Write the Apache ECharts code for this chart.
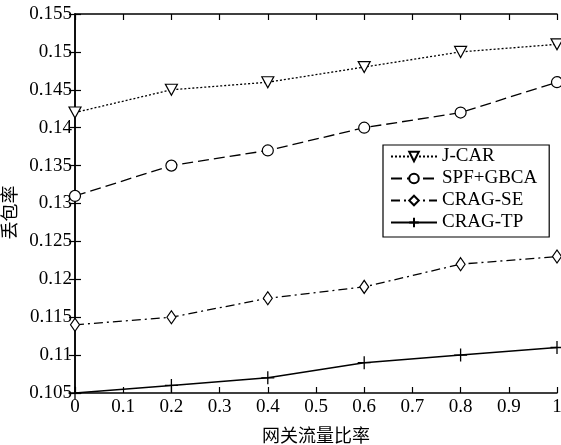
<!DOCTYPE html>
<html><head><meta charset="utf-8">
<script src="https://cdn.jsdelivr.net/npm/echarts@6/dist/echarts.min.js"></script>
<style>html,body{margin:0;padding:0;background:#fff}#c{width:561px;height:445px}</style>
</head><body><div id="c"></div>
<script>
const categories = [0, 0.2, 0.4, 0.6, 0.8, 1];
const jcar = [0.142, 0.145, 0.146, 0.148, 0.150, 0.151];
const spf = [0.131, 0.135, 0.137, 0.140, 0.142, 0.146];
const crageSE = [0.114, 0.115, 0.1175, 0.119, 0.122, 0.123];
const crageTP = [0.105, 0.106, 0.107, 0.109, 0.110, 0.111];
const names = ['J-CAR', 'SPF+GBCA', 'CRAG-SE', 'CRAG-TP'];

const serif = 'Liberation Serif';
const pair = arr => categories.map((x, i) => [x, arr[i]]);
const chart = echarts.init(document.getElementById('c'));
const axisCommon = {
  axisLine: {show: true, lineStyle: {color: '#000', width: 1.5}},
  axisTick: {show: true, inside: true, length: 6, lineStyle: {color: '#000', width: 1.2}},
  splitLine: {show: false}
};
const plus = 'path://M0,-6 L0,6 M-6,0 L6,0';
chart.setOption({
  animation: false,
  grid: {left: 75, right: 4, top: 14, bottom: 52, outerBoundsMode: 'none', containLabel: false},
  legend: {
    orient: 'vertical', left: 383, top: 145,
    padding: [2, 12, 5, 7], itemGap: 3, itemWidth: 46, itemHeight: 12,
    borderColor: '#000', borderWidth: 1.2, backgroundColor: '#fff', borderRadius: 0,
    textStyle: {fontFamily: serif, fontSize: 19, lineHeight: 19, color: '#000'},
    data: names
  },
  xAxis: [
    Object.assign({type: 'value', min: 0, max: 1, interval: 0.1, position: 'bottom',
      axisLabel: {color: '#000', fontFamily: serif, fontSize: 19, margin: 5,
        formatter: v => String(Math.round(v * 10) / 10)},
      name: '网关流量比率', nameLocation: 'middle', nameGap: 33,
      nameTextStyle: {fontFamily: 'Noto Sans CJK SC', fontSize: 18, color: '#000'}
    }, axisCommon),
    Object.assign({type: 'value', min: 0, max: 1, interval: 0.1, position: 'top', axisLabel: {show: false}}, axisCommon)
  ],
  yAxis: [
    Object.assign({type: 'value', min: 0.105, max: 0.155, interval: 0.005, position: 'left',
      axisLabel: {color: '#000', fontFamily: serif, fontSize: 19, margin: 3,
        formatter: v => String(Math.round(v * 1000) / 1000)},
      name: '丢包率', nameLocation: 'middle', nameGap: 51, nameRotate: 90,
      nameTextStyle: {fontFamily: 'Noto Sans CJK SC', fontSize: 18, color: '#000', padding: [0, 0, 0, -18]}
    }, axisCommon),
    Object.assign({type: 'value', min: 0.105, max: 0.155, interval: 0.005, position: 'right', axisLabel: {show: false}}, axisCommon)
  ],
  series: [
    {name: names[0], type: 'line', data: pair(jcar), symbol: 'triangle', symbolRotate: 180, symbolSize: [12, 11],
      lineStyle: {color: '#000', width: 1.3, type: [2, 2]},
      itemStyle: {color: '#fff', borderColor: '#000', borderWidth: 1.2}},
    {name: names[1], type: 'line', data: pair(spf), symbol: 'circle', symbolSize: 11,
      lineStyle: {color: '#000', width: 1.3, type: [11, 5]},
      itemStyle: {color: '#fff', borderColor: '#000', borderWidth: 1.2}},
    {name: names[2], type: 'line', data: pair(crageSE), symbol: 'diamond', symbolSize: [9, 13],
      lineStyle: {color: '#000', width: 1.3, type: [9, 4, 2, 4]},
      itemStyle: {color: '#fff', borderColor: '#000', borderWidth: 1.2}},
    {name: names[3], type: 'line', data: pair(crageTP), symbol: plus, symbolSize: 13,
      lineStyle: {color: '#000', width: 1.5},
      itemStyle: {color: '#000', borderColor: '#000', borderWidth: 1.3}}
  ]
});
</script></body></html>
